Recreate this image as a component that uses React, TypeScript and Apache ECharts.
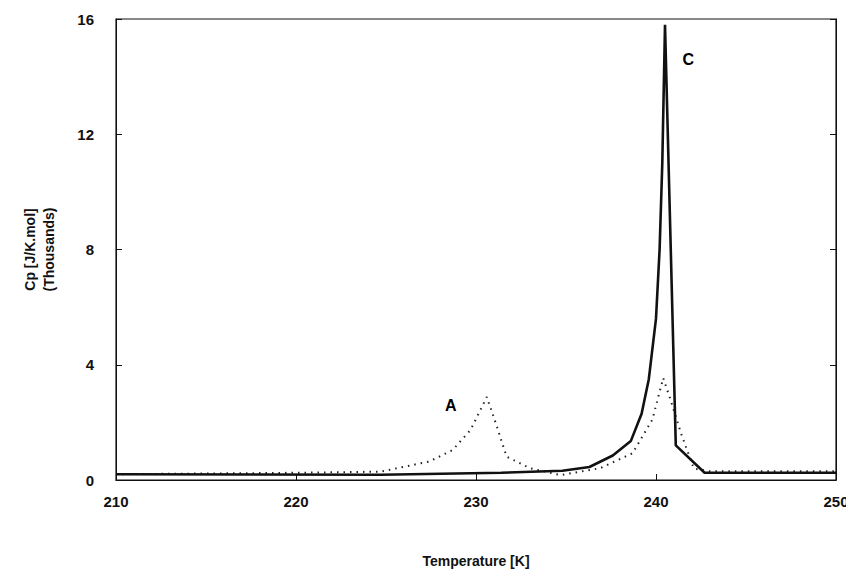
import { useEffect, useRef } from 'react';
import * as echarts from 'echarts';

const curveC: [number, number][] = [
  [210, 0.2], [224.7, 0.18], [231.4, 0.25], [234.8, 0.32], [236.3, 0.45], [237.6, 0.85],
  [238.6, 1.35], [239.2, 2.3], [239.6, 3.5], [240.0, 5.6], [240.2, 8.0], [240.35, 11.0],
  [240.5, 15.8], [241.1, 1.2], [242.7, 0.25], [250, 0.25],
];

const curveA: [number, number][] = [
  [210, 0.2], [220, 0.25], [224.7, 0.29], [227.4, 0.64], [228.7, 1.04], [229.7, 1.74],
  [230.6, 2.88], [231.1, 1.97], [231.7, 0.81], [233, 0.41], [234.7, 0.17], [236.9, 0.41],
  [238.7, 0.93], [239.8, 2.1], [240.4, 3.54], [240.8, 2.8], [241.4, 1.6], [242.1, 0.4],
  [243, 0.3], [250, 0.3],
];

const curveLabels: { name: string; value: [number, number] }[] = [
  { name: 'C', value: [241.8, 14.6] },
  { name: 'A', value: [228.6, 2.6] },
];

const xTicks = [210, 220, 230, 240, 250];
const yTicks = [0, 4, 8, 12, 16];

const FONT = 'Liberation Sans, Arial, sans-serif';

export default function App() {
  const ref = useRef<HTMLDivElement>(null);

  useEffect(() => {
    if (!ref.current) return;
    const chart = echarts.init(ref.current, null, { renderer: 'svg' });
    const tickLabel = { color: '#111', fontSize: 15, fontWeight: 'bold' as const, fontFamily: FONT };
    chart.setOption({
      animation: false,
      grid: { left: 116, right: 18, top: 19, bottom: 99, show: true, borderColor: '#111', borderWidth: 1.2 },
      xAxis: {
        type: 'value', min: xTicks[0], max: xTicks[xTicks.length - 1], interval: 10,
        name: 'Temperature [K]', nameLocation: 'middle', nameGap: 74,
        nameTextStyle: { ...tickLabel, fontSize: 14 },
        axisLine: { lineStyle: { color: '#111' } },
        axisTick: { inside: true, length: 6, lineStyle: { color: '#111' } },
        axisLabel: { ...tickLabel, margin: 14 },
        splitLine: { show: false },
      },
      yAxis: [
        {
          type: 'value', min: yTicks[0], max: yTicks[yTicks.length - 1], interval: 4,
          name: 'Cp [J/K.mol]\n(Thousands)', nameLocation: 'middle', nameGap: 58,
          nameTextStyle: { ...tickLabel, fontSize: 14, lineHeight: 19 },
          axisLine: { lineStyle: { color: '#111' } },
          axisTick: { inside: true, length: 6, lineStyle: { color: '#111' } },
          axisLabel: { ...tickLabel, margin: 22 },
          splitLine: { show: false },
        },
        {
          type: 'value', position: 'right', min: 0, max: 16, interval: 4,
          axisLine: { show: true, lineStyle: { color: '#111' } },
          axisTick: { inside: true, length: 6, lineStyle: { color: '#111' } },
          axisLabel: { show: false },
          splitLine: { show: false },
        },
      ],
      series: [
        {
          type: 'line', data: curveA, showSymbol: false,
          lineStyle: { color: '#222', width: 2, type: [1.5, 5] },
        },
        {
          type: 'line', data: curveC, showSymbol: false,
          lineStyle: { color: '#111', width: 2.6 },
        },
        {
          type: 'scatter', data: curveLabels, symbolSize: 0, silent: true,
          itemStyle: { color: '#111', opacity: 1 },
          label: { show: true, position: 'inside', formatter: '{b}', ...tickLabel, color: '#000', fontSize: 16 },
        },
      ],
    });
    return () => chart.dispose();
  }, []);

  return <div ref={ref} style={{ width: 854, height: 579, margin: -8, background: '#fff' }} />;
}
